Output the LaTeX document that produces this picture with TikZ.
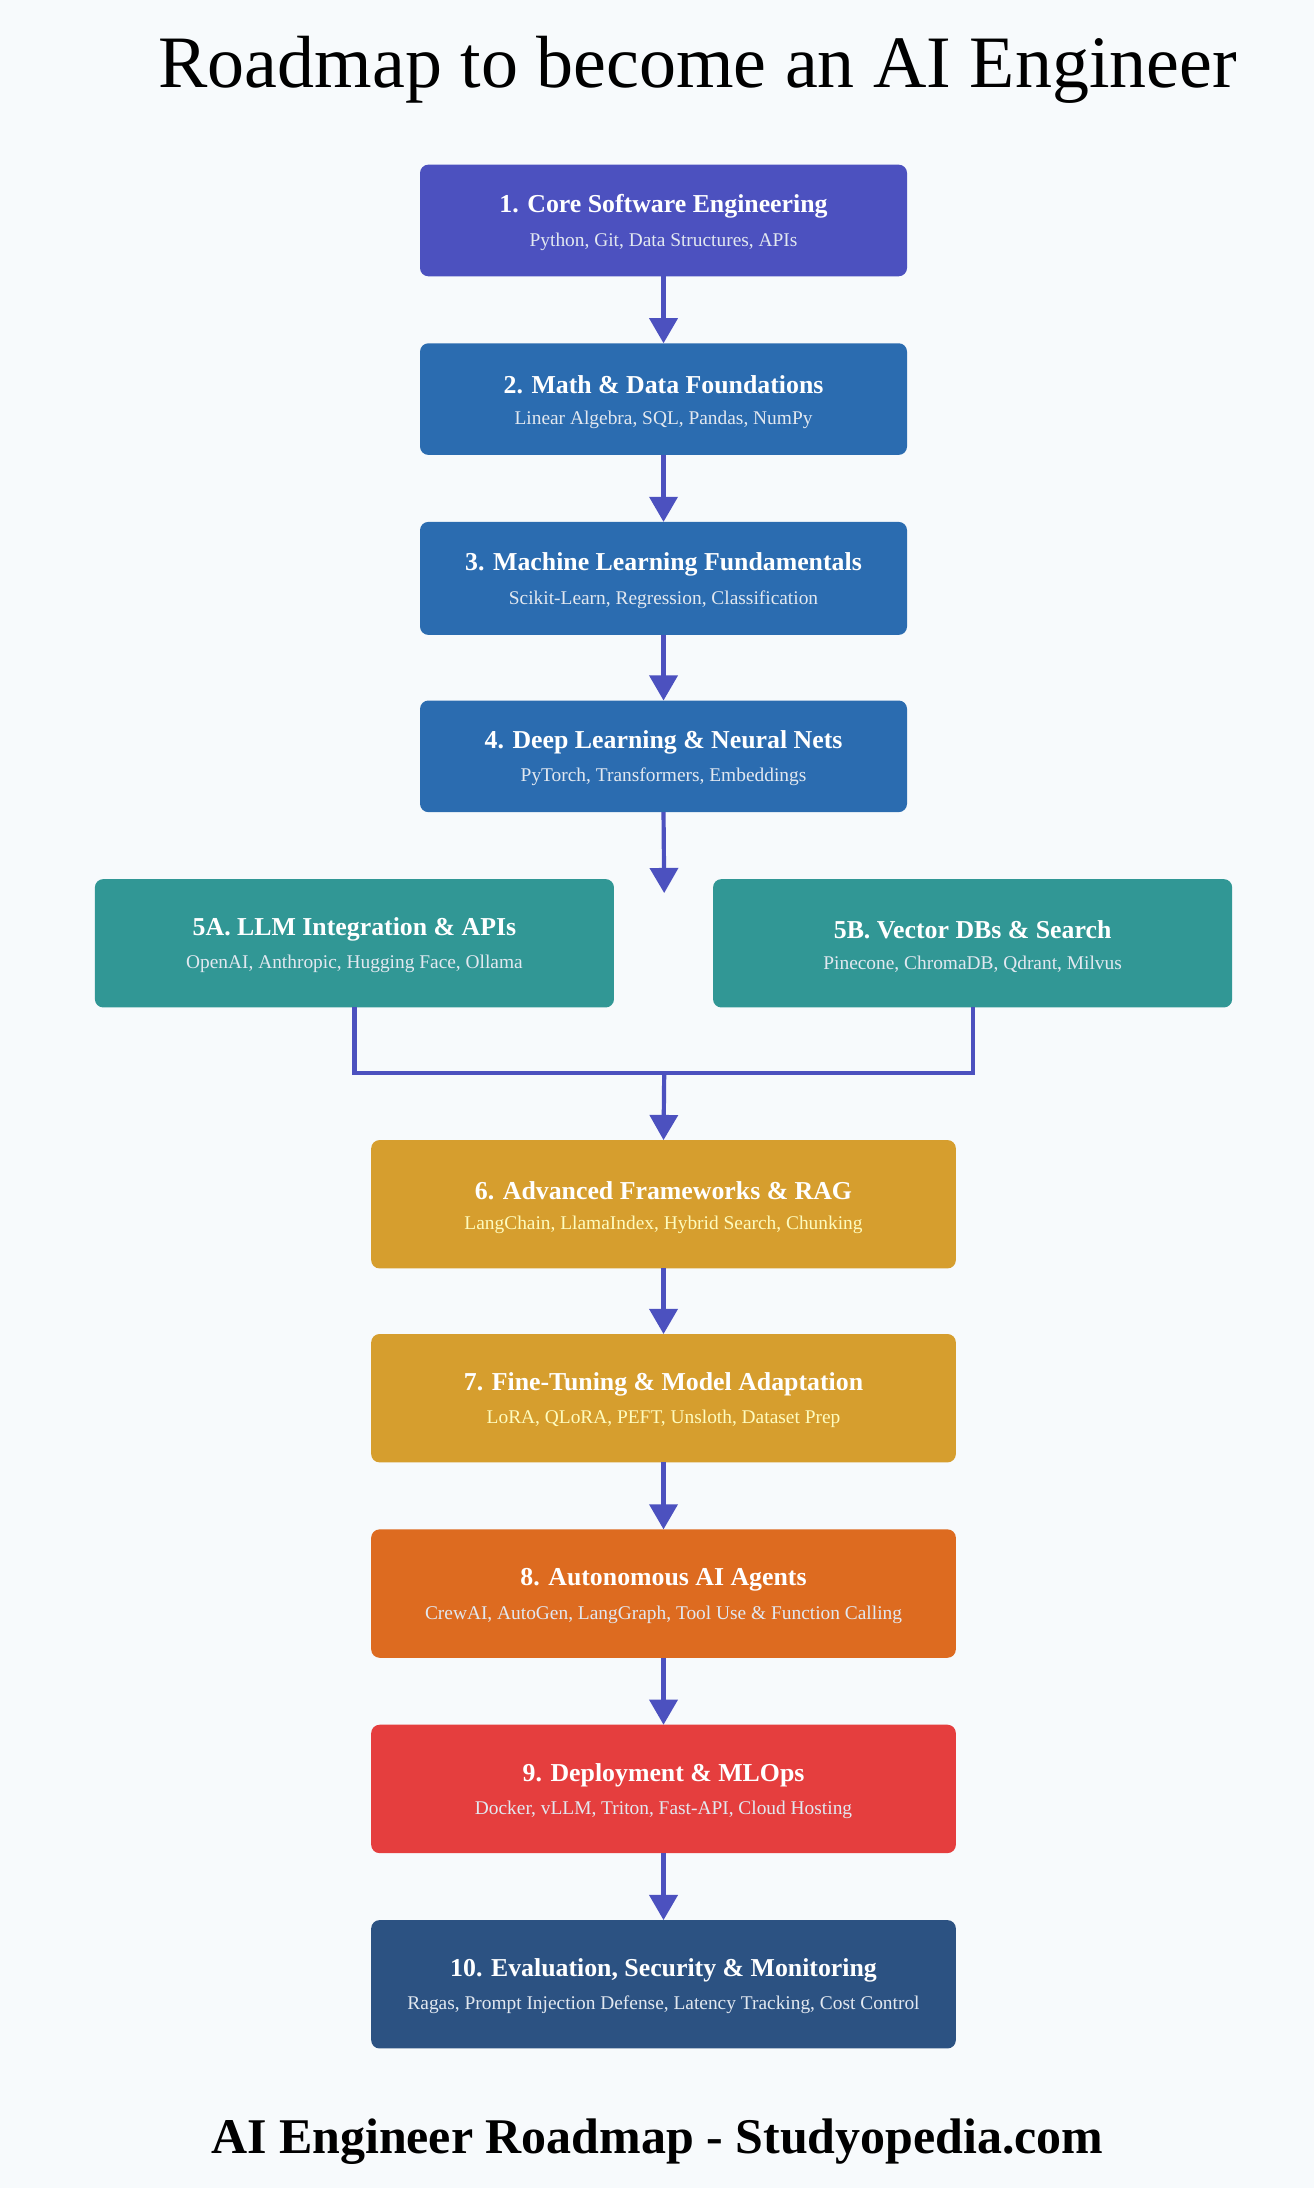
\documentclass[tikz,border=0pt]{standalone}
\usepackage{fontspec}
\setmainfont{Liberation Serif}
\usetikzlibrary{arrows.meta}
\definecolor{bg}{HTML}{F7FAFC}
\definecolor{cA}{HTML}{4C51BF}
\definecolor{cB}{HTML}{2B6CB0}
\definecolor{cC}{HTML}{319795}
\definecolor{cD}{HTML}{D69E2E}
\definecolor{cE}{HTML}{DD6B20}
\definecolor{cF}{HTML}{E53E3E}
\definecolor{cG}{HTML}{2C5282}
\definecolor{arr}{HTML}{4C51BF}
\definecolor{subw}{HTML}{E2E8F0}
\definecolor{suby}{HTML}{FEFCBF}
\begin{document}
\begin{tikzpicture}[x=1pt,y=-1pt,
 box/.style={rounded corners=6pt},
 ttl/.style={font=\bfseries\fontsize{18.5}{22}\selectfont,text=white},
 sub/.style={font=\fontsize{13.9}{16}\selectfont,text=subw},
 con/.style={draw=arr,line width=3pt},
 ar/.style={con,-{Triangle[length=18pt,width=20pt]}}]
\fill[bg] (0,0) rectangle (942,1568);
\useasboundingbox (0,0) rectangle (942,1568);
\node (title) at (500,50) {\fontsize{53}{60}\selectfont Roadmap to become an AI Engineer};
\node (foot) at (471,1535) {\bfseries\fontsize{35.8}{42}\selectfont AI Engineer Roadmap - Studyopedia.com};
\newcommand\mybox[9]{%
 \fill[box,#6] (#2,#3) rectangle (#4,#5);
 \coordinate (#1t) at ({(#2+#4)/2},#3);
 \coordinate (#1b) at ({(#2+#4)/2},#5);
 \node[ttl] (#1x) at ({(#2+#4)/2},{(#3+#5)/2-10}) {#7};
 \node[sub,text=#8] (#1y) at ({(#2+#4)/2},{(#3+#5)/2+15}) {#9};}
\mybox{n1}{301}{118}{650}{198}{cA}{1. Core Software Engineering}{subw}{Python, Git, Data Structures, APIs}
\mybox{n2}{301}{246}{650}{326}{cB}{2. Math \& Data Foundations}{subw}{Linear Algebra, SQL, Pandas, NumPy}
\mybox{n3}{301}{374}{650}{455}{cB}{3. Machine Learning Fundamentals}{subw}{Scikit-Learn, Regression, Classification}
\mybox{n4}{301}{502}{650}{582}{cB}{4. Deep Learning \& Neural Nets}{subw}{PyTorch, Transformers, Embeddings}
\mybox{n5a}{68}{630}{440}{722}{cC}{5A. LLM Integration \& APIs}{subw}{OpenAI, Anthropic, Hugging Face, Ollama}
\mybox{n5b}{511}{630}{883}{722}{cC}{5B. Vector DBs \& Search}{subw}{Pinecone, ChromaDB, Qdrant, Milvus}
\mybox{n6}{266}{817}{685}{909}{cD}{6. Advanced Frameworks \& RAG}{suby}{LangChain, LlamaIndex, Hybrid Search, Chunking}
\mybox{n7}{266}{956}{685}{1048}{cD}{7. Fine-Tuning \& Model Adaptation}{suby}{LoRA, QLoRA, PEFT, Unsloth, Dataset Prep}
\mybox{n8}{266}{1096}{685}{1188}{cE}{8. Autonomous AI Agents}{subw}{CrewAI, AutoGen, LangGraph, Tool Use \& Function Calling}
\mybox{n9}{266}{1236}{685}{1328}{cF}{9. Deployment \& MLOps}{subw}{Docker, vLLM, Triton, Fast-API, Cloud Hosting}
\mybox{n10}{266}{1376}{685}{1468}{cG}{10. Evaluation, Security \& Monitoring}{subw}{Ragas, Prompt Injection Defense, Latency Tracking, Cost Control}
\draw[ar] (n1b) -- (n2t);
\draw[ar] (n2b) -- (n3t);
\draw[ar] (n3b) -- (n4t);
\coordinate (m5) at (476,640);
\draw[ar] (n4b) -- (m5);
\coordinate (j) at (476,769);
\coordinate (ja) at (254,769);
\coordinate (jb) at (697,769);
\coordinate (a5) at (254,722);
\coordinate (b5) at (697,722);
\draw[con] (a5) -- (ja) -- (jb) -- (b5);
\draw[ar] (j) -- (n6t);
\draw[ar] (n6b) -- (n7t);
\draw[ar] (n7b) -- (n8t);
\draw[ar] (n8b) -- (n9t);
\draw[ar] (n9b) -- (n10t);
\end{tikzpicture}
\end{document}
